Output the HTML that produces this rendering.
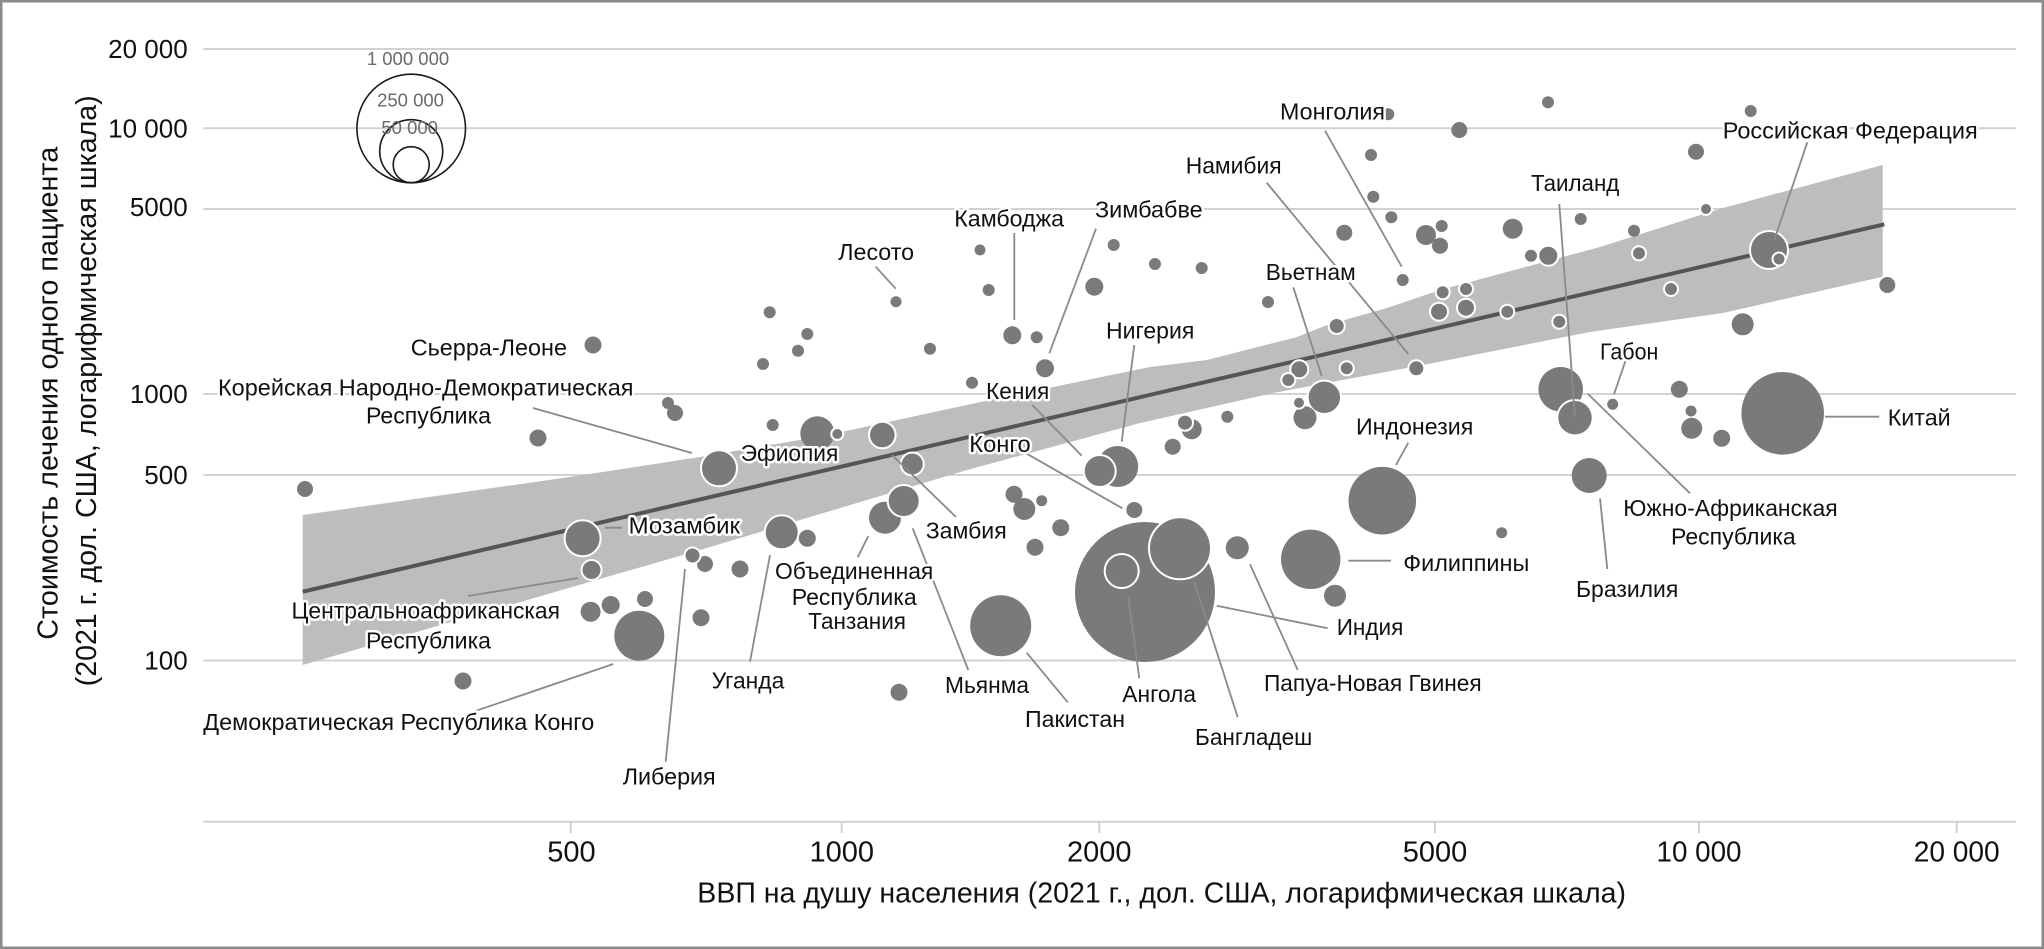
<!DOCTYPE html>
<html><head><meta charset="utf-8"><style>
html,body{margin:0;padding:0;background:#fff;}
svg{display:block;}
text{font-family:"Liberation Sans",Arial,sans-serif;}
.l{font-size:23.5px;fill:#111;stroke:#fff;stroke-width:5px;paint-order:stroke;stroke-linejoin:round;}
.yt{font-size:26px;fill:#111;text-anchor:end;}
.xt{font-size:29px;fill:#111;text-anchor:middle;}
.ti{font-size:29px;fill:#111;}
.lg{font-size:18.5px;fill:#6a6a6a;text-anchor:middle;}
.b circle{fill:#7a7a7a;}
.b circle.w{stroke:#fff;stroke-width:2px;}
.ld line{stroke:#8a8a8a;stroke-width:1.8px;}
</style></head><body>
<svg width="2044" height="949" viewBox="0 0 2044 949" xmlns="http://www.w3.org/2000/svg">
<rect x="0" y="0" width="2044" height="949" fill="#fff"/>
<rect x="1.25" y="1.25" width="2041.5" height="946.5" fill="none" stroke="#8a8a8a" stroke-width="2.5"/>

<!-- gridlines -->
<g stroke="#d2d2d2" stroke-width="2">
<line x1="203.3" y1="49" x2="2016" y2="49"/>
<line x1="203.3" y1="128.3" x2="2016" y2="128.3"/>
<line x1="203.3" y1="209" x2="2016" y2="209"/>
<line x1="203.3" y1="394" x2="2016" y2="394"/>
<line x1="203.3" y1="475" x2="2016" y2="475"/>
<line x1="203.3" y1="660.5" x2="2016" y2="660.5"/>
<line x1="203.3" y1="821.7" x2="2016" y2="821.7"/>
<line x1="570.7" y1="821.7" x2="570.7" y2="833"/>
<line x1="841.7" y1="821.7" x2="841.7" y2="833"/>
<line x1="1099.3" y1="821.7" x2="1099.3" y2="833"/>
<line x1="1435" y1="821.7" x2="1435" y2="833"/>
<line x1="1699" y1="821.7" x2="1699" y2="833"/>
<line x1="1956.7" y1="821.7" x2="1956.7" y2="833"/>
</g>

<!-- y tick labels -->
<text class="yt" x="187.7" y="58.2">20 000</text>
<text class="yt" x="187.7" y="137.5">10 000</text>
<text class="yt" x="187.7" y="216">5000</text>
<text class="yt" x="187.7" y="403.2">1000</text>
<text class="yt" x="187.7" y="484.2">500</text>
<text class="yt" x="187.7" y="669.7">100</text>

<!-- x tick labels -->
<text class="xt" x="571.5" y="861.7">500</text>
<text class="xt" x="841.7" y="861.7">1000</text>
<text class="xt" x="1099.3" y="861.7">2000</text>
<text class="xt" x="1435" y="861.7">5000</text>
<text class="xt" x="1699" y="861.7" textLength="85" lengthAdjust="spacingAndGlyphs">10 000</text>
<text class="xt" x="1956.7" y="861.7" textLength="86" lengthAdjust="spacingAndGlyphs">20 000</text>

<!-- axis titles -->
<text class="ti" x="697.3" y="902.3" textLength="928.7" lengthAdjust="spacingAndGlyphs">ВВП на душу населения (2021 г., дол. США, логарифмическая шкала)</text>
<text class="ti" transform="translate(57.7,393.3) rotate(-90)" text-anchor="middle" textLength="493" lengthAdjust="spacingAndGlyphs">Стоимость лечения одного пациента</text>
<text class="ti" transform="translate(96,390.8) rotate(-90)" text-anchor="middle" textLength="591" lengthAdjust="spacingAndGlyphs">(2021 г. дол. США, логарифмическая шкала)</text>

<!-- confidence band -->
<polygon fill="#bdbdbd" points="302.7,515 549,480 616,470 700,457 823,436 990,400 1150,367 1207,360 1297,337 1327,325 1387,308 1440,290 1600,247 1707,213 1723,208 1882.7,165 1882.7,276.7 1723,313 1590,332 1423,365 1273,393 1140,423 967,470 700,550 302.7,665"/>
<!-- trend line -->
<line x1="302.7" y1="591.7" x2="1884.3" y2="224.3" stroke="#555" stroke-width="4"/>

<!-- legend -->
<g fill="none" stroke="#1a1a1a" stroke-width="1.6">
<circle cx="411.2" cy="128.5" r="54.3"/>
<circle cx="411.2" cy="151.2" r="31.5"/>
<circle cx="411.2" cy="164.7" r="18"/>
</g>
<text class="lg" x="408" y="65">1 000 000</text>
<text class="lg" x="410.5" y="106.5">250 000</text>
<text class="lg" x="409.7" y="134">50 000</text>

<!-- bubbles -->
<g class="b">
<circle cx="1145" cy="592" r="70"/>
<circle cx="1782.7" cy="413.3" r="41.3"/>
<circle cx="1382.3" cy="500.7" r="33.8"/>
<circle class="w" cx="1180" cy="548.3" r="31"/>
<circle cx="1000.7" cy="625.7" r="30.5"/>
<circle cx="1310.7" cy="559.3" r="29.7"/>
<circle cx="639.3" cy="635.7" r="25"/>
<circle cx="1560.7" cy="389.3" r="22.3"/>
<circle cx="1117.7" cy="466.5" r="20.5"/>
<circle class="w" cx="1769" cy="250" r="19"/>
<circle class="w" cx="582.6" cy="538.3" r="18"/>
<circle class="w" cx="719" cy="468.3" r="18"/>
<circle class="w" cx="1575" cy="417.7" r="17.7"/>
<circle cx="1589.2" cy="475.5" r="17.5"/>
<circle cx="817.3" cy="433.3" r="17"/>
<circle class="w" cx="1121.7" cy="571" r="17"/>
<circle class="w" cx="781.7" cy="532.3" r="17"/>
<circle class="w" cx="1324.3" cy="397.3" r="16.7"/>
<circle cx="885" cy="517.7" r="16"/>
<circle class="w" cx="903.7" cy="501" r="16"/>
<circle class="w" cx="1099.7" cy="471" r="16"/>
<circle class="w" cx="882.3" cy="435" r="13.3"/>
<circle cx="1237.3" cy="547.7" r="11.5"/>
<circle cx="1305" cy="417.7" r="11.5"/>
<circle class="w" cx="912.3" cy="464" r="11.5"/>
<circle cx="1024.3" cy="509" r="11"/>
<circle cx="1335" cy="595.7" r="11"/>
<circle cx="1742.7" cy="324.3" r="11"/>
<circle cx="1691.7" cy="428.3" r="10.5"/>
<circle cx="590.6" cy="611.7" r="10"/>
<circle cx="1426" cy="235" r="10"/>
<circle cx="1512.7" cy="228.7" r="10"/>
<circle cx="1191.7" cy="429.3" r="10"/>
<circle class="w" cx="591.5" cy="570" r="10"/>
<circle class="w" cx="1548.3" cy="255.7" r="10"/>
<circle cx="610.7" cy="605" r="9"/>
<circle cx="1012.3" cy="335.3" r="9"/>
<circle cx="1094.3" cy="286.7" r="9"/>
<circle cx="1045" cy="368.3" r="9"/>
<circle class="w" cx="1439" cy="311.7" r="9"/>
<circle class="w" cx="1466" cy="307.7" r="9"/>
<circle class="w" cx="1299.3" cy="369.3" r="9"/>
<circle cx="463" cy="681" r="8.5"/>
<circle cx="538" cy="438" r="8.5"/>
<circle cx="593" cy="345" r="8.5"/>
<circle cx="740" cy="569" r="8.5"/>
<circle cx="701" cy="617.7" r="8.5"/>
<circle cx="899" cy="692.3" r="8.5"/>
<circle cx="807.3" cy="538.3" r="8.5"/>
<circle cx="1014" cy="494.3" r="8.5"/>
<circle cx="1060.7" cy="527.7" r="8.5"/>
<circle cx="1035" cy="547.3" r="8.5"/>
<circle cx="1679.3" cy="389.3" r="8.5"/>
<circle cx="1721.7" cy="438.3" r="8.5"/>
<circle cx="305" cy="489" r="8"/>
<circle cx="675" cy="413" r="8"/>
<circle cx="645" cy="599" r="8"/>
<circle cx="705" cy="564" r="8"/>
<circle cx="1134.3" cy="510" r="8"/>
<circle cx="1459.3" cy="130" r="8"/>
<circle cx="1344.3" cy="232.7" r="8"/>
<circle cx="1440" cy="245.7" r="8"/>
<circle cx="1172.7" cy="446.7" r="8"/>
<circle cx="1696" cy="151.7" r="8"/>
<circle cx="1887.3" cy="285" r="8"/>
<circle class="w" cx="692.5" cy="555.5" r="8"/>
<circle class="w" cx="1416.3" cy="368.3" r="8"/>
<circle class="w" cx="1336.7" cy="326" r="8"/>
<circle class="w" cx="1185" cy="422.7" r="8"/>
<circle class="w" cx="1442.7" cy="292.3" r="7"/>
<circle class="w" cx="1466" cy="289" r="7"/>
<circle class="w" cx="1507.3" cy="311.7" r="7"/>
<circle class="w" cx="1559.3" cy="321.7" r="7"/>
<circle class="w" cx="1288.3" cy="380" r="7"/>
<circle class="w" cx="1346.7" cy="368.3" r="7"/>
<circle class="w" cx="1639" cy="253.3" r="7"/>
<circle class="w" cx="1671" cy="289" r="7"/>
<circle class="w" cx="1779" cy="259" r="6.5"/>
<circle cx="668" cy="403" r="6"/>
<circle cx="772.7" cy="425" r="6"/>
<circle cx="769.7" cy="312.3" r="6"/>
<circle cx="807.3" cy="334" r="6"/>
<circle cx="798" cy="350.7" r="6"/>
<circle cx="763" cy="364" r="6"/>
<circle cx="930" cy="348.7" r="6"/>
<circle cx="988.7" cy="290" r="6"/>
<circle cx="1036.7" cy="337.3" r="6"/>
<circle cx="1113.7" cy="245" r="6"/>
<circle cx="972" cy="382.7" r="6"/>
<circle cx="1402.7" cy="280" r="6"/>
<circle cx="1388.3" cy="114.3" r="6"/>
<circle cx="1548" cy="102.3" r="6"/>
<circle cx="1371" cy="155" r="6"/>
<circle cx="1373.3" cy="196.7" r="6"/>
<circle cx="1391.3" cy="217.3" r="6"/>
<circle cx="1441.7" cy="226" r="6"/>
<circle cx="1580.7" cy="219" r="6"/>
<circle cx="1531" cy="255.7" r="6"/>
<circle cx="1155" cy="264" r="6"/>
<circle cx="1201.7" cy="268" r="6"/>
<circle cx="1268" cy="302" r="6"/>
<circle cx="1227.3" cy="416.7" r="6"/>
<circle cx="1750.7" cy="111" r="6"/>
<circle cx="1634" cy="230.7" r="6"/>
<circle class="w" cx="837.3" cy="434" r="6"/>
<circle class="w" cx="1299" cy="402.7" r="6"/>
<circle class="w" cx="1706" cy="209" r="6"/>
<circle cx="896" cy="301.7" r="5.5"/>
<circle cx="980" cy="250" r="5.5"/>
<circle cx="1041.7" cy="500.7" r="5.5"/>
<circle cx="1501.7" cy="532.7" r="5.5"/>
<circle cx="1612.7" cy="404.3" r="5.5"/>
<circle cx="1691" cy="411" r="5.5"/>
</g>

<!-- leader lines -->
<g class="ld">
<line x1="533" y1="408" x2="692" y2="453"/>
<line x1="605" y1="527.7" x2="622" y2="527.7"/>
<line x1="468" y1="596" x2="578" y2="578"/>
<line x1="473.3" y1="711.7" x2="613.3" y2="664"/>
<line x1="685" y1="569" x2="665.7" y2="761.7"/>
<line x1="875.7" y1="266.7" x2="895.7" y2="288.7"/>
<line x1="1014.3" y1="233" x2="1014.3" y2="320"/>
<line x1="1096" y1="228.7" x2="1049.3" y2="353.3"/>
<line x1="1032.3" y1="405" x2="1081.7" y2="455.7"/>
<line x1="1134.3" y1="345" x2="1121.7" y2="441.7"/>
<line x1="1025" y1="452.7" x2="1122.3" y2="508.3"/>
<line x1="892" y1="455" x2="956" y2="517"/>
<line x1="868.3" y1="536" x2="857.7" y2="557.3"/>
<line x1="770" y1="555" x2="750" y2="661.7"/>
<line x1="912.7" y1="528.3" x2="968.3" y2="670"/>
<line x1="1026.7" y1="652.7" x2="1067.7" y2="702.3"/>
<line x1="1128.3" y1="596.7" x2="1139.3" y2="678.3"/>
<line x1="1194.3" y1="581.7" x2="1237.7" y2="717.3"/>
<line x1="1216.7" y1="605.7" x2="1327.7" y2="628.3"/>
<line x1="1250" y1="564.3" x2="1297.7" y2="670"/>
<line x1="1348.3" y1="560.7" x2="1391" y2="560.7"/>
<line x1="1408.3" y1="442.7" x2="1396" y2="465"/>
<line x1="1600" y1="498.3" x2="1607.3" y2="569"/>
<line x1="1325" y1="130.7" x2="1401.7" y2="266.7"/>
<line x1="1266.7" y1="182.7" x2="1408.3" y2="354"/>
<line x1="1293.3" y1="287.3" x2="1321.7" y2="376"/>
<line x1="1559.3" y1="204" x2="1575" y2="416.7"/>
<line x1="1807.3" y1="142.3" x2="1774.3" y2="240"/>
<line x1="1626" y1="359.3" x2="1614" y2="394.3"/>
<line x1="1825" y1="416.7" x2="1879.3" y2="416.7"/>
<line x1="1588" y1="394" x2="1690" y2="493.3"/>
</g>

<!-- labels -->
<g>
<text class="l" x="410.7" y="355.5" textLength="156.3" lengthAdjust="spacingAndGlyphs">Сьерра-Леоне</text>
<text class="l" x="218" y="395.5" textLength="415.5" lengthAdjust="spacingAndGlyphs">Корейская Народно-Демократическая</text>
<text class="l" x="366" y="423.5" textLength="125" lengthAdjust="spacingAndGlyphs">Республика</text>
<text class="l" x="628.6" y="533.5" textLength="111.4" lengthAdjust="spacingAndGlyphs">Мозамбик</text>
<text class="l" x="291.5" y="618.5" textLength="268.5" lengthAdjust="spacingAndGlyphs">Центральноафриканская</text>
<text class="l" x="366" y="648.5" textLength="125" lengthAdjust="spacingAndGlyphs">Республика</text>
<text class="l" x="203.3" y="730" textLength="391" lengthAdjust="spacingAndGlyphs">Демократическая Республика Конго</text>
<text class="l" x="622.7" y="784.5" textLength="93" lengthAdjust="spacingAndGlyphs">Либерия</text>
<text class="l" x="740.7" y="460.8" textLength="97.6" lengthAdjust="spacingAndGlyphs">Эфиопия</text>
<text class="l" x="838.3" y="260.2" textLength="75.7" lengthAdjust="spacingAndGlyphs">Лесото</text>
<text class="l" x="954.3" y="226.5" textLength="109.7" lengthAdjust="spacingAndGlyphs">Камбоджа</text>
<text class="l" x="1095" y="217.5" textLength="107.7" lengthAdjust="spacingAndGlyphs">Зимбабве</text>
<text class="l" x="1106" y="338.5" textLength="88.3" lengthAdjust="spacingAndGlyphs">Нигерия</text>
<text class="l" x="986" y="399.2" textLength="63.3" lengthAdjust="spacingAndGlyphs">Кения</text>
<text class="l" x="969.3" y="451.8" textLength="61.4" lengthAdjust="spacingAndGlyphs">Конго</text>
<text class="l" x="925.7" y="538.5" textLength="81" lengthAdjust="spacingAndGlyphs">Замбия</text>
<text class="l" x="775" y="579.2" textLength="158.3" lengthAdjust="spacingAndGlyphs">Объединенная</text>
<text class="l" x="791.7" y="605.2" textLength="125" lengthAdjust="spacingAndGlyphs">Республика</text>
<text class="l" x="808.3" y="629.2" textLength="97.7" lengthAdjust="spacingAndGlyphs">Танзания</text>
<text class="l" x="711.7" y="688.5" textLength="72.6" lengthAdjust="spacingAndGlyphs">Уганда</text>
<text class="l" x="945" y="692.8" textLength="84" lengthAdjust="spacingAndGlyphs">Мьянма</text>
<text class="l" x="1025" y="726.8" textLength="100" lengthAdjust="spacingAndGlyphs">Пакистан</text>
<text class="l" x="1122.3" y="701.8" textLength="73.7" lengthAdjust="spacingAndGlyphs">Ангола</text>
<text class="l" x="1195" y="745.2" textLength="117.3" lengthAdjust="spacingAndGlyphs">Бангладеш</text>
<text class="l" x="1336.7" y="635.2" textLength="66.6" lengthAdjust="spacingAndGlyphs">Индия</text>
<text class="l" x="1264" y="690.8" textLength="217.7" lengthAdjust="spacingAndGlyphs">Папуа-Новая Гвинея</text>
<text class="l" x="1403.3" y="571.2" textLength="126" lengthAdjust="spacingAndGlyphs">Филиппины</text>
<text class="l" x="1356" y="434.5" textLength="117.3" lengthAdjust="spacingAndGlyphs">Индонезия</text>
<text class="l" x="1576" y="596.8" textLength="102.3" lengthAdjust="spacingAndGlyphs">Бразилия</text>
<text class="l" x="1280" y="119.5" textLength="105" lengthAdjust="spacingAndGlyphs">Монголия</text>
<text class="l" x="1185.7" y="173.5" textLength="96" lengthAdjust="spacingAndGlyphs">Намибия</text>
<text class="l" x="1265.7" y="280.2" textLength="90" lengthAdjust="spacingAndGlyphs">Вьетнам</text>
<text class="l" x="1531" y="191.2" textLength="88.3" lengthAdjust="spacingAndGlyphs">Таиланд</text>
<text class="l" x="1722.7" y="138.5" textLength="255" lengthAdjust="spacingAndGlyphs">Российская Федерация</text>
<text class="l" x="1600" y="359.5" textLength="58.3" lengthAdjust="spacingAndGlyphs">Габон</text>
<text class="l" x="1887.7" y="425.5" textLength="63" lengthAdjust="spacingAndGlyphs">Китай</text>
<text class="l" x="1623.3" y="516.2" textLength="214.4" lengthAdjust="spacingAndGlyphs">Южно-Африканская</text>
<text class="l" x="1671" y="544.5" textLength="124.7" lengthAdjust="spacingAndGlyphs">Республика</text>
</g>
</svg>
</body></html>
